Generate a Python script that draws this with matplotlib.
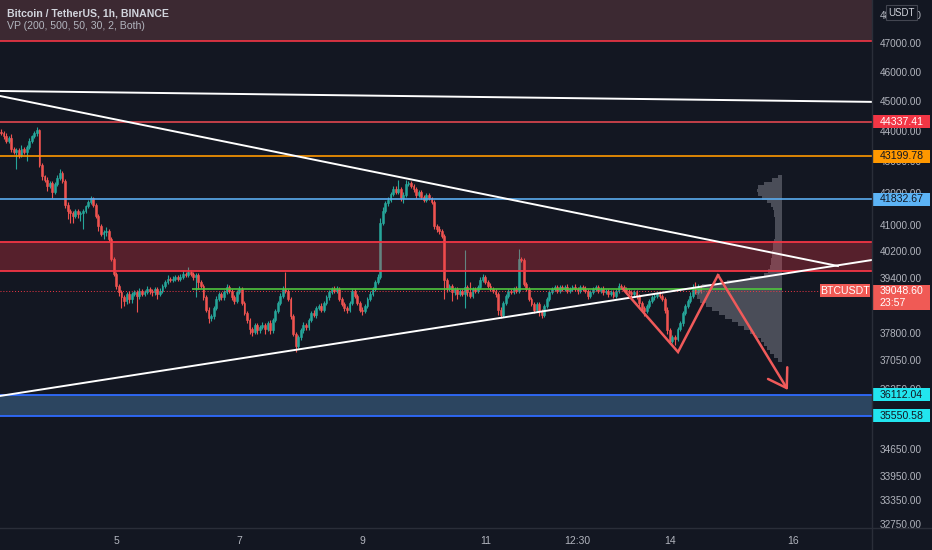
import numpy as np
import matplotlib
matplotlib.use("Agg")
import matplotlib.pyplot as plt
from matplotlib.patches import Rectangle
from matplotlib.lines import Line2D

plt.rcParams["font.family"] = ["Liberation Sans", "DejaVu Sans"]

BG = "#131722"
TXT = "#b2b5be"
UP = "#26a69a"
DOWN = "#ef5350"

# hourly closes, BTCUSDT 1h
closes = [
    43950, 43850, 43700, 43800, 43450, 43350, 43400, 43250, 43450, 43350,
    43500, 43700, 43850, 43950, 44050, 42900, 42550, 42450, 42250, 42350,
    42050, 42300, 42500, 42650, 42400, 41650, 41450, 41400, 41300, 41450,
    41350, 41400, 41450, 41600, 41750, 41850, 41650, 41300, 41000, 40750,
    40800, 40850, 40600, 40000, 39550, 39200, 39000, 38850, 38750, 38950,
    38800, 38950, 39000, 38900, 39050, 38950, 39000, 39100, 39050, 39000,
    39100, 38950, 39050, 39200, 39300, 39400, 39350, 39400, 39450, 39400,
    39450, 39550, 39500, 39600, 39550, 39450, 39500, 39300, 39200, 38850,
    38500, 38250, 38300, 38550, 38800, 38950, 38850, 39000, 39150, 39050,
    38850, 38750, 39000, 39100, 38700, 38400, 38200, 37950, 37850, 38050,
    37900, 38000, 38050, 37950, 38100, 37900, 38200, 38450, 38700, 38900,
    39100, 39050, 38800, 38300, 37800, 37450, 37700, 37900, 38050, 38000,
    38200, 38400, 38350, 38550, 38600, 38500, 38700, 38850, 39000, 39100,
    39050, 39100, 38800, 38650, 38550, 38500, 38700, 39050, 38900, 38700,
    38500, 38450, 38600, 38800, 38950, 39100, 39300, 39450, 41100, 41450,
    41700, 41800, 42000, 42150, 42050, 42150, 41850, 41950, 42300, 42350,
    42250, 42150, 41950, 42050, 41900, 41800, 41950, 41850, 41750, 41000,
    40900, 40850, 40700, 39350, 39100, 39200, 39000, 39100, 38950, 39050,
    38950, 39150, 39000, 38900, 39100, 39050, 39150, 39350, 39450, 39300,
    39200, 39100, 39050, 38950, 38500, 38350, 38700, 38900, 39050, 39000,
    39100, 39050, 40000, 39950, 39250, 39100, 38800, 38650, 38500, 38650,
    38450, 38350, 38600, 38800, 39000, 39100, 39150, 39050, 39150, 39100,
    39150, 39050, 39100, 39150, 39100, 39050, 39150, 39100, 39050, 38900,
    39000, 39100, 39150, 39050, 39100, 39000, 39050, 38950, 39000, 38900,
    39050, 39200, 39150, 39100, 39050, 39000, 38950, 39000, 38900, 38700,
    38550, 38450, 38600, 38750, 38850, 38900, 38950, 38900, 38800, 38500,
    37900, 37600, 37700, 37650, 37950, 38100, 38400, 38600, 38750, 38900,
    39100, 39000, 39150, 39048.60,
]
first_open = 44000

wick_up = [
    80, 60, 100, 60, 120, 60, 80, 60, 100, 60,
    80, 100, 60, 80, 100, 50, 80, 60, 80, 60,
    60, 60, 80, 150, 60, 60, 80, 60, 60, 60,
    60, 60, 60, 60, 60, 80, 60, 60, 60, 60,
    80, 100, 60, 60, 60, 60, 60, 60, 60, 60,
    80, 60, 80, 60, 80, 60, 60, 100, 60, 60,
    60, 60, 80, 60, 60, 100, 60, 80, 60, 60,
    80, 100, 60, 150, 60, 60, 80, 60, 60, 60,
    60, 60, 60, 60, 80, 60, 60, 80, 100, 80,
    60, 60, 80, 100, 60, 60, 60, 60, 60, 60,
    60, 60, 80, 60, 60, 100, 60, 60, 60, 80,
    80, 500, 60, 60, 60, 60, 60, 60, 80, 60,
    60, 60, 100, 60, 60, 80, 60, 60, 60, 60,
    80, 100, 60, 60, 60, 60, 60, 60, 60, 60,
    60, 60, 60, 60, 80, 60, 60, 80, 150, 120,
    80, 100, 60, 100, 80, 290, 60, 100, 150, 60,
    60, 60, 60, 60, 60, 60, 60, 60, 60, 60,
    60, 80, 60, 60, 60, 60, 60, 60, 60, 60,
    60, 1100, 60, 300, 60, 60, 80, 100, 80, 60,
    60, 80, 60, 60, 60, 60, 60, 60, 60, 60,
    60, 80, 290, 60, 60, 60, 60, 60, 60, 60,
    60, 60, 60, 60, 60, 60, 60, 60, 60, 60,
    60, 100, 60, 60, 100, 60, 60, 60, 100, 60,
    60, 60, 80, 60, 60, 100, 60, 60, 60, 60,
    60, 80, 60, 60, 60, 60, 60, 60, 60, 60,
    60, 60, 60, 60, 60, 80, 60, 60, 60, 60,
    60, 60, 60, 60, 60, 60, 60, 60, 60, 100,
    150, 200, 100, 60,
]

wick_dn = [
    60, 80, 60, 60, 100, 80, 550, 100, 60, 80,
    300, 60, 60, 60, 80, 60, 100, 80, 150, 80,
    200, 60, 60, 60, 60, 100, 250, 300, 200, 60,
    100, 200, 500, 60, 60, 60, 60, 60, 150, 60,
    150, 100, 100, 80, 80, 100, 100, 300, 150, 100,
    100, 100, 60, 470, 100, 60, 60, 60, 100, 100,
    80, 150, 60, 60, 60, 60, 60, 60, 60, 60,
    60, 60, 60, 60, 60, 80, 600, 200, 60, 60,
    80, 150, 80, 60, 60, 60, 60, 60, 60, 60,
    60, 100, 60, 60, 60, 60, 100, 150, 100, 60,
    100, 60, 60, 150, 60, 100, 60, 60, 60, 60,
    60, 60, 60, 60, 60, 150, 60, 60, 60, 100,
    80, 60, 60, 100, 60, 60, 60, 60, 60, 60,
    60, 60, 60, 60, 100, 100, 60, 60, 60, 60,
    60, 100, 60, 60, 60, 60, 60, 60, 60, 80,
    60, 100, 60, 80, 60, 60, 80, 150, 60, 60,
    60, 80, 80, 60, 80, 60, 60, 60, 60, 100,
    100, 100, 60, 550, 100, 60, 250, 80, 150, 60,
    60, 400, 100, 60, 60, 60, 60, 60, 60, 60,
    60, 60, 60, 100, 150, 100, 60, 60, 60, 60,
    60, 60, 60, 60, 60, 60, 60, 60, 100, 60,
    150, 100, 60, 60, 60, 60, 60, 60, 60, 60,
    60, 60, 60, 60, 60, 100, 60, 60, 60, 80,
    60, 60, 60, 60, 60, 80, 60, 100, 60, 60,
    60, 60, 60, 60, 60, 60, 80, 60, 100, 150,
    100, 150, 60, 60, 60, 60, 60, 60, 60, 100,
    100, 80, 60, 150, 60, 60, 60, 60, 60, 60,
    60, 60, 60, 60,
]

# x axis (hour index) labels
day_pos = [45, 93, 141, 189, 225, 261, 309]
day_labels = ["5", "7", "9", "11", "12:30", "14", "16"]

price_ticks = [48000, 47000, 46000, 45000, 44000, 43000, 42000, 41000, 40200,
               39400, 37800, 37050, 36250, 34650, 33950, 33350, 32750]

# drawn levels
top_zone_line = 47100
lvl_red = 44337.41
lvl_orange = 43199.78
lvl_blue = 41832.67
red_zone = (39626, 40508)
blue_zone = (35550.58, 36112.04)
last_price = 39048.60
poc_price = 39100
poc_span = (74.5, 304.8)

# trendlines: (hour index, price)
tl_flat_x, tl_flat_p = [-0.4, 339.9], [45370, 45000]
tl_down_x, tl_down_p = [-0.4, 326.6], [45200, 39780]
tl_up_x, tl_up_p = [-0.4, 339.9], [36080, 39960]
path_x = [242.7, 264.2, 279.8, 307.1]
path_p = [39100, 37290, 39510, 36240]

# volume profile rows (bottom to top), relative volume
vp_low, vp_high = 37012, 42597
vp_volume = [4, 8, 12, 15, 18, 21, 26, 32, 38, 44,
             50, 57, 63, 70, 76, 82, 85, 86, 84, 80,
             55, 32, 18, 14, 12, 11, 11, 10, 10, 9,
             9, 8, 7, 7, 7, 7, 7, 7, 8, 8,
             9, 11, 15, 20, 24, 25, 24, 18, 10, 4]
vp_right = 304.8

X_MIN, X_MAX = -0.39, 339.9
Y_MIN, Y_MAX = 32672, 48580

fig = plt.figure(figsize=(9.32, 5.5), dpi=100, facecolor=BG)
ax = fig.add_axes([0, 22 / 550, 872 / 932, 528 / 550])
ax.set_facecolor(BG)
ax.set_yscale("log")
ax.set_xlim(X_MIN, X_MAX)
ax.set_ylim(Y_MIN, Y_MAX)
ax.yaxis.set_major_locator(plt.NullLocator())
ax.yaxis.set_minor_locator(plt.NullLocator())
for s in ax.spines.values():
    s.set_visible(False)
ax.set_xticks(day_pos, day_labels)
ax.tick_params(axis="x", length=0, pad=6, labelsize=7.5, labelcolor=TXT)

# candles
opens = [first_open] + closes[:-1]
idx = np.arange(len(closes))
o = np.array(opens, dtype=float)
c = np.array(closes, dtype=float)
hi = np.maximum(o, c) + np.array(wick_up)
lo = np.minimum(o, c) - np.array(wick_dn)
cols = np.where(c >= o, UP, DOWN)
ax.vlines(idx, lo, hi, colors=cols, lw=0.8, zorder=3)
ax.bar(idx, np.abs(c - o), bottom=np.minimum(o, c), width=0.72,
       color=cols, edgecolor=cols, lw=0.4, zorder=4)

# zones and levels
ax.axhspan(top_zone_line, Y_MAX * 1.2, color="#3c2932", lw=0, zorder=1)
ax.axhline(top_zone_line, color="#f23645", lw=1.2, zorder=5)
ax.axhline(lvl_red, color="#e0474f", lw=1.2, zorder=5)
ax.axhline(lvl_orange, color="#ff9800", lw=1.2, zorder=5)
ax.axhline(lvl_blue, color="#5aacf0", lw=1.2, zorder=5)
ax.axhspan(*red_zone, color="#f23645", alpha=0.3, lw=0, zorder=5)
ax.axhline(red_zone[0], color="#f23645", lw=1.3, zorder=6)
ax.axhline(red_zone[1], color="#f23645", lw=1.3, zorder=6)
ax.axhspan(*blue_zone, color="#5b9bd5", alpha=0.35, lw=0, zorder=5)
ax.axhline(blue_zone[0], color="#2f6bff", lw=1.3, zorder=6)
ax.axhline(blue_zone[1], color="#2f6bff", lw=1.3, zorder=6)

# volume profile
edges = np.linspace(vp_low, vp_high, len(vp_volume) + 1)
w = np.array(vp_volume) / 2.5625
ax.barh(edges[:-1], -w, height=np.diff(edges), left=vp_right, align="edge",
        color="#787b86", alpha=0.55, lw=0, zorder=4)
ax.hlines(poc_price, poc_span[0], poc_span[1], color="#4fc53d", lw=1.2, zorder=6)
ax.axhline(last_price, xmax=0.94, color="#f23645", lw=0.7, ls=(0, (1, 2)), zorder=6)

# trendlines
ax.plot(tl_flat_x, tl_flat_p, color="white", lw=1.4, zorder=7)
ax.plot(tl_down_x, tl_down_p, color="white", lw=1.4, zorder=7)
ax.plot(tl_up_x, tl_up_p, color="white", lw=1.4, zorder=7)

# projected path
ax.plot(path_x[:3], path_p[:3], color="#f05a5a", lw=1.8, zorder=8,
        solid_joinstyle="miter")
ax.annotate("", xy=(path_x[3], path_p[3]), xytext=(path_x[2], path_p[2]),
            arrowprops=dict(arrowstyle="->,head_length=0.7,head_width=0.45",
                            color="#f05a5a", lw=1.8, shrinkA=0, shrinkB=0,
                            mutation_scale=18), zorder=8)

# right price scale
ytr = ax.get_yaxis_transform()
LBL_X = 880 / 872
for p in price_ticks:
    ax.text(LBL_X, p, f"{p:.2f}", transform=ytr, ha="left", va="center",
            fontsize=7.2, color=TXT, clip_on=False)

ratio = Y_MAX / Y_MIN


def tag(p, text, bg, fg, up=6.5, down=6.5, x0=1.0, x1=1.0665, xt=LBL_X, ha="left"):
    y0 = p / ratio ** (down / 528)
    y1 = p * ratio ** (up / 528)
    ax.add_patch(Rectangle((x0, y0), x1 - x0, y1 - y0, transform=ytr,
                           facecolor=bg, lw=0, clip_on=False, zorder=10))
    ax.text(xt, p, text, transform=ytr, ha=ha, va="center",
            fontsize=7.6, color=fg, clip_on=False, zorder=11)


tag(lvl_red, "44337.41", "#f23645", "white")
tag(lvl_orange, "43199.78", "#ff9800", "#131722")
tag(lvl_blue, "41832.67", "#5cb3f5", "#131722")
tag(last_price, "39048.60", "#f05a55", "white", up=6, down=19)
ax.text(LBL_X, last_price / ratio ** (12 / 528), "23:57", transform=ytr,
        ha="left", va="center", fontsize=7.6, color="white", clip_on=False, zorder=11)
tag(blue_zone[1], "36112.04", "#22e5ef", "#131722")
tag(blue_zone[0], "35550.58", "#22e5ef", "#131722")
tag(last_price, "BTCUSDT", "#f05a55", "white", up=6.5, down=6.5,
    x0=0.9404, x1=0.998, xt=0.9692, ha="center")

# separators
fig.add_artist(Line2D([872 / 932, 872 / 932], [0, 1], color="#2a2e39", lw=1))
fig.add_artist(Line2D([0, 1], [22 / 550, 22 / 550], color="#2a2e39", lw=1))

# currency box
fig.add_artist(Rectangle((886 / 932, 1 - 20 / 550), 31 / 932, 15 / 550,
                         facecolor=BG, edgecolor="#434651", lw=0.8))
fig.text(901.5 / 932, 1 - 12.5 / 550, "USDT", ha="center", va="center",
         fontsize=7, color="#d1d4dc")

# header
fig.text(7 / 932, 1 - 13 / 550, "Bitcoin / TetherUS, 1h, BINANCE", ha="left",
         va="center", fontsize=7.6, fontweight="bold", color="#d1d4dc")
fig.text(7 / 932, 1 - 26 / 550, "VP (200, 500, 50, 30, 2, Both)", ha="left",
         va="center", fontsize=7.6, color=TXT)

fig.savefig("out.png", dpi=100, facecolor=BG)
